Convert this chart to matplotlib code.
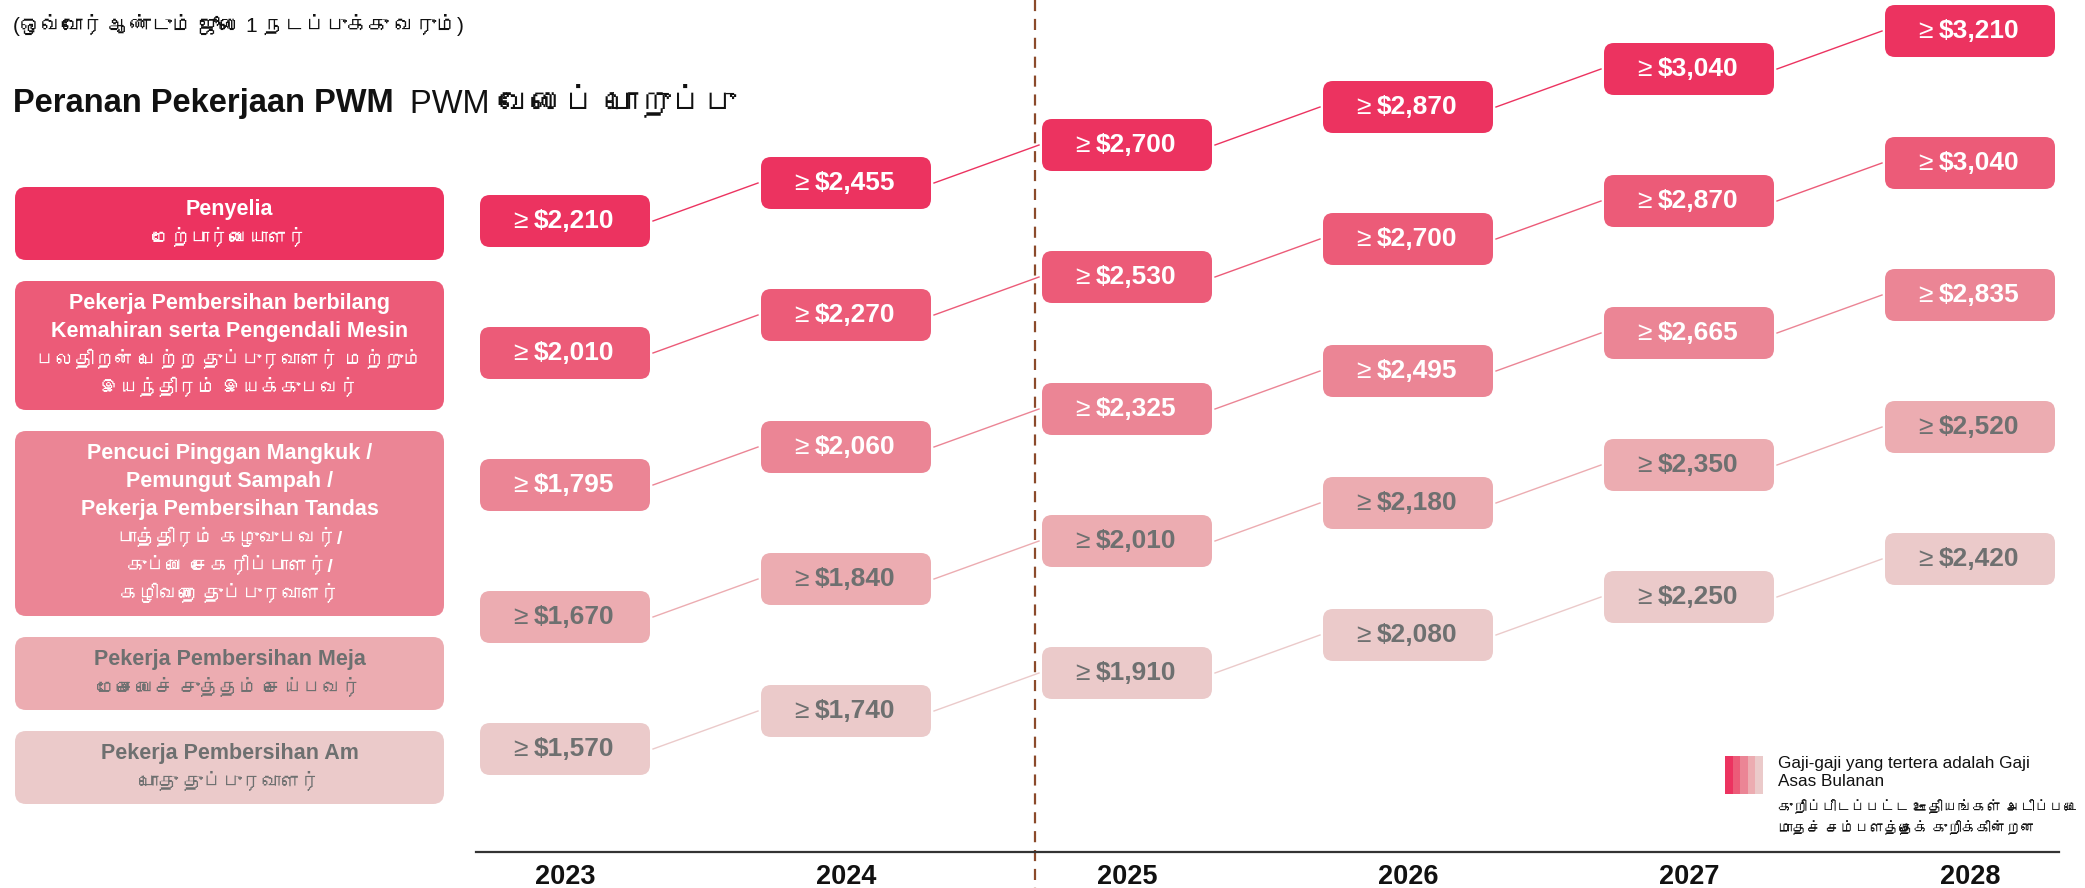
import matplotlib
matplotlib.use("Agg")
import matplotlib.pyplot as plt
from matplotlib import font_manager
from matplotlib.patches import FancyBboxPatch, Rectangle


YEARS = ["2023", "2024", "2025", "2026", "2027", "2028"]

ROLE_MS = [
    ["Penyelia"],
    ["Pekerja Pembersihan berbilang", "Kemahiran serta Pengendali Mesin"],
    ["Pencuci Pinggan Mangkuk /", "Pemungut Sampah /", "Pekerja Pembersihan Tandas"],
    ["Pekerja Pembersihan Meja"],
    ["Pekerja Pembersihan Am"],
]
ROLE_TA = [
    ["மேற்பார்வையாளர்"],
    ["பலதிறன் பெற்ற துப்புரவாளர் மற்றும்", "இயந்திரம் இயக்குபவர்"],
    ["பாத்திரம் கழுவுபவர்/", "குப்பை சேகரிப்பாளர்/", "கழிவறை துப்புரவாளர்"],
    ["மேசையைச் சுத்தம் செய்பவர்"],
    ["பொது துப்புரவாளர்"],
]

WAGE_SUPERVISOR = [2210, 2455, 2700, 2870, 3040, 3210]
WAGE_MULTI_SKILLED = [2010, 2270, 2530, 2700, 2870, 3040]
WAGE_DISHWASHER = [1795, 2060, 2325, 2495, 2665, 2835]
WAGE_TABLE_CLEANER = [1670, 1840, 2010, 2180, 2350, 2520]
WAGE_GENERAL = [1570, 1740, 1910, 2080, 2250, 2420]

ROW_COLORS = ["#EC3360", "#EC5B78", "#EB8595", "#ECACB1", "#EBCACA"]
TEXT_COLORS = ["white", "white", "white", "#6E7070", "#6E7070"]

SUBTITLE_TA = "(ஒவ்வோர் ஆண்டும் ஜூலை 1 நடப்புக்கு வரும்)"
TITLE_MS = "Peranan Pekerjaan PWM"
TITLE_TA = "PWM வேலைப் பொறுப்பு"
NOTE_MS = ["Gaji-gaji yang tertera adalah Gaji", "Asas Bulanan"]
NOTE_TA = ["குறிப்பிடப்பட்ட ஊதியங்கள் அடிப்படை", "மாதச் சம்பளத்தைக் குறிக்கின்றன"]

# layout (pixels of the 2085x888 canvas)
W, H = 2085, 888
X0, DX = 565, 281
Y0, ROW_DY, YEAR_DY = 221, 132, 38
BOX_W, BOX_H = 170, 52
LEFT_X0, LEFT_X1 = 15, 444
LEFT_TOP, LINE_PITCH, LEFT_GAP = 187, 28, 21
SPLIT_X = 1035
AXIS_Y = 852


def tamil_families():
    try:
        from fontTools.ttLib import TTFont
    except ImportError:
        return []
    found = []
    for entry in font_manager.fontManager.ttflist:
        if entry.name in found:
            continue
        try:
            font = TTFont(entry.fname, fontNumber=0, lazy=True)
            cmap = font.getBestCmap() or {}
        except Exception:
            continue
        if 0x0BA4 in cmap and 0x0BCD in cmap:
            found.append(entry.name)
    return found


FAMILY = ["Liberation Sans"] + tamil_families() + ["DejaVu Sans"]
plt.rcParams["font.family"] = FAMILY


def main() -> None:
    wages = [WAGE_SUPERVISOR, WAGE_MULTI_SKILLED, WAGE_DISHWASHER,
             WAGE_TABLE_CLEANER, WAGE_GENERAL]

    fig = plt.figure(figsize=(W / 100, H / 100), dpi=100)
    ax = fig.add_axes([0, 0, 1, 1])
    ax.set_xlim(0, W)
    ax.set_ylim(H, 0)
    ax.axis("off")

    # header
    ax.text(13, 32, SUBTITLE_TA, fontsize=15, color="#111111", va="baseline", ha="left")
    t1 = ax.text(13, 112, TITLE_MS, fontsize=23.5, fontweight="bold",
                 color="#111111", va="baseline", ha="left")
    fig.canvas.draw()
    bb = t1.get_window_extent().transformed(ax.transData.inverted())
    ax.text(bb.x1 + 16, 112, TITLE_TA, fontsize=23.5, color="#111111",
            va="baseline", ha="left")

    # role boxes on the left
    top = LEFT_TOP
    for r in range(len(ROLE_MS)):
        lines = ROLE_MS[r] + ROLE_TA[r]
        n = len(lines)
        h = n * LINE_PITCH + 17
        ax.add_patch(FancyBboxPatch((LEFT_X0, top), LEFT_X1 - LEFT_X0, h,
                                    boxstyle="round,pad=0,rounding_size=11",
                                    facecolor=ROW_COLORS[r], edgecolor="none"))
        mid = top + h / 2
        xc = (LEFT_X0 + LEFT_X1) / 2
        for k, line in enumerate(lines):
            y = mid + (k - (n - 1) / 2) * LINE_PITCH
            is_ta = k >= len(ROLE_MS[r])
            ax.text(xc, y, line, fontsize=14 if is_ta else 15.5, fontweight="bold",
                    color=TEXT_COLORS[r], ha="center", va="center")
        top += h + LEFT_GAP

    # wage boxes and connectors
    for r, row in enumerate(wages):
        for i, value in enumerate(row):
            cx = X0 + i * DX
            cy = Y0 + r * ROW_DY - i * YEAR_DY
            ax.add_patch(FancyBboxPatch((cx - BOX_W / 2, cy - BOX_H / 2), BOX_W, BOX_H,
                                        boxstyle="round,pad=0,rounding_size=10",
                                        facecolor=ROW_COLORS[r], edgecolor="none",
                                        zorder=2))
            ax.text(cx - 37, cy, "≥", fontsize=19, color=TEXT_COLORS[r],
                    ha="right", va="center", zorder=3)
            ax.text(cx - 31, cy, f"${value:,}", fontsize=19, fontweight="bold",
                    color=TEXT_COLORS[r], ha="left", va="center", zorder=3)
            if i + 1 < len(row):
                nx = X0 + (i + 1) * DX
                ny = cy - YEAR_DY
                ax.plot([cx + BOX_W / 2 + 3, nx - BOX_W / 2 - 3], [cy, ny],
                        color=ROW_COLORS[r], linewidth=1.0, zorder=1)

    # split line and year axis
    ax.plot([SPLIT_X, SPLIT_X], [0, H], color="#8B4A2B", linewidth=1.6,
            linestyle=(0, (5, 3.5)), zorder=0)
    ax.plot([X0 - 89, X0 + 5 * DX + 89], [AXIS_Y, AXIS_Y], color="#333333",
            linewidth=1.6, zorder=1)
    for i, year in enumerate(YEARS):
        ax.text(X0 + i * DX, 877, year, fontsize=19.5, fontweight="bold",
                color="#111111", ha="center", va="center")

    # note with colour swatch
    for r, color in enumerate(ROW_COLORS):
        ax.add_patch(Rectangle((1725 + r * 7.6, 756), 7.6, 38, facecolor=color,
                               edgecolor="none"))
    for k, line in enumerate(NOTE_MS):
        ax.text(1778, 763 + k * 18, line, fontsize=12.3, color="#111111",
                ha="left", va="center")
    for k, line in enumerate(NOTE_TA):
        ax.text(1778, 808 + k * 21, line, fontsize=10.5, color="#111111",
                ha="left", va="center")

    fig.savefig("out.png", dpi=100)
    plt.close(fig)


if __name__ == "__main__":
    main()
